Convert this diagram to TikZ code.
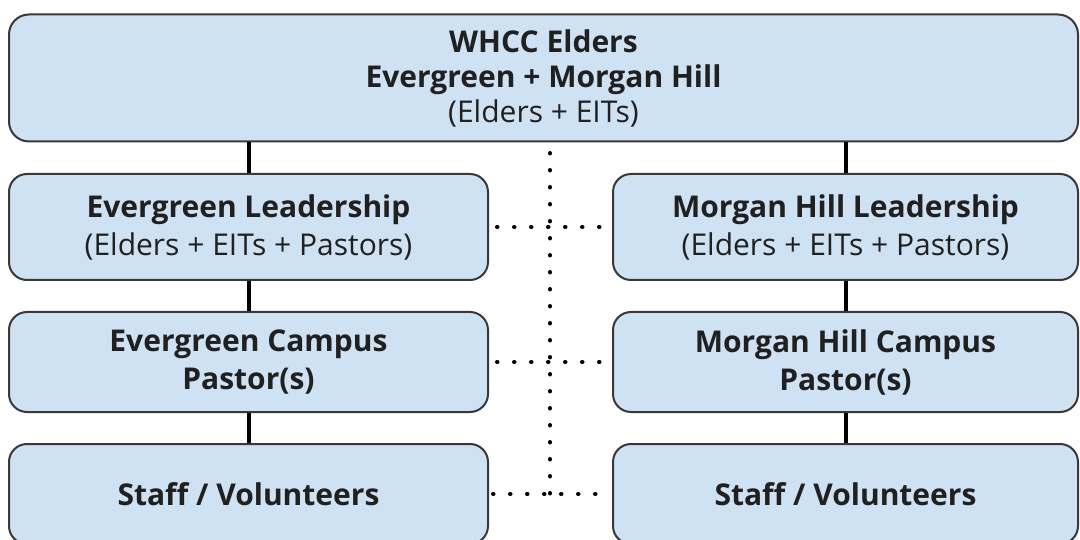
\documentclass[tikz,border=0pt]{standalone}
\usepackage{fontspec}
\setmainfont{Open Sans}
\definecolor{boxblue}{HTML}{CFE2F3}
\definecolor{boxline}{HTML}{383838}
\definecolor{txt}{HTML}{202020}

\begin{document}
\begin{tikzpicture}[x=1pt, y=-1pt,
            b/.style={draw=boxline, line width=2pt, fill=boxblue, rounded corners=18pt,
                align=center, text=txt, inner sep=0pt, font=\fontsize{30}{38}\selectfont},
            lcol/.style={b, minimum width=479pt, minimum height=106pt},
            rcol/.style={b, minimum width=465pt, minimum height=106pt},
            row/.style={minimum height=100pt},
            link/.style={line width=4pt, black},
            dotline/.style={draw=black, line width=4pt, line cap=round, dash pattern=on 0.5pt off 16.5pt}]
            \clip (0,0) rectangle (1080,540);

            \node[b, minimum width=1069pt, minimum height=127pt, rounded corners=20pt,
                font=\fontsize{30}{35}\selectfont] (top) at (543.5,78)
                {\textbf{WHCC Elders}\\\textbf{Evergreen + Morgan Hill}\\(Elders + EITs)};

            \node[lcol] (egl) at (248.5,227) {\textbf{Evergreen Leadership}\\(Elders + EITs + Pastors)};
            \node[lcol,row] (egp) at (248.5,362) {\textbf{Evergreen Campus}\\\textbf{Pastor(s)}};
            \node[lcol,row] (egs) at (248.5,494) {\textbf{Staff / Volunteers}};

            \node[rcol] (mhl) at (845.5,227) {\textbf{Morgan Hill Leadership}\\(Elders + EITs + Pastors)};
            \node[rcol,row] (mhp) at (845.5,362) {\textbf{Morgan Hill Campus}\\\textbf{Pastor(s)}};
            \node[rcol,row] (mhs) at (845.5,494) {\textbf{Staff / Volunteers}};

            \draw[link] (egl.north) -- (egl.north |- top.south);
            \draw[link] (egp.north) -- (egl.south);
            \draw[link] (egs.north) -- (egp.south);

            \draw[link] (mhl.north) -- (mhl.north |- top.south);
            \draw[link] (mhp.north) -- (mhl.south);
            \draw[link] (mhs.north) -- (mhp.south);

            % dotted cross between the two campuses
            \coordinate (mid) at (550,153);
            \draw[dotline] (mid) -- (mid |- egs.east);
            \draw[dotline] ([xshift=8pt]egl.east) -- (mhl.west);
            \draw[dotline] ([xshift=8pt]egp.east) -- (mhp.west);
            \draw[dotline] ([xshift=4pt]egs.east) -- (mhs.west);
        \end{tikzpicture}
\end{document}
